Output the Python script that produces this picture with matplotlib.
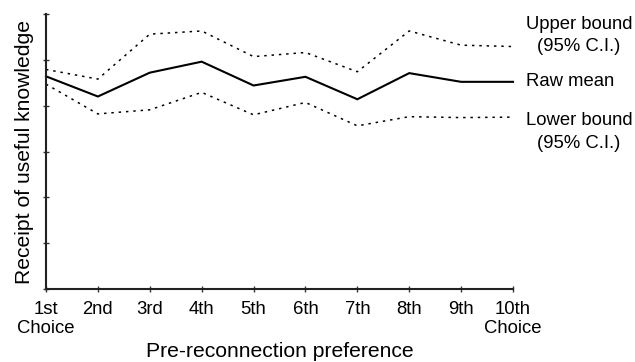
import matplotlib
matplotlib.use("Agg")
import matplotlib.pyplot as plt

plt.rcParams['font.family'] = ['Liberation Sans', 'DejaVu Sans']

categories = ["1st\nChoice", "2nd", "3rd", "4th", "5th", "6th", "7th", "8th", "9th", "10th\nChoice"]
raw_mean = [4.64, 4.20, 4.72, 4.96, 4.44, 4.63, 4.14, 4.71, 4.52, 4.52]
upper_bound = [4.79, 4.58, 5.56, 5.63, 5.07, 5.16, 4.74, 5.63, 5.32, 5.29]
lower_bound = [4.47, 3.82, 3.91, 4.29, 3.80, 4.07, 3.56, 3.76, 3.74, 3.75]
y_ticks = [0, 1, 2, 3, 4, 5, 6]

fig = plt.figure(figsize=(6.35, 3.62), dpi=100)
ax = fig.add_axes([46/635, 1 - 289/362, 467/635, 275/362])

x = list(range(1, len(categories) + 1))
ax.plot(x, raw_mean, color='black', lw=1.5, solid_joinstyle='miter')
ax.plot(x, upper_bound, color='black', lw=1.1, linestyle=(0, (1.6, 3.2)))
ax.plot(x, lower_bound, color='black', lw=1.1, linestyle=(0, (1.6, 3.2)))

ax.set_xlim(1, 10)
ax.set_ylim(0, 6)
ax.set_xticks(x)
ax.set_xticklabels(categories, fontsize=13.3, linespacing=1.15)
ax.set_yticks(y_ticks)
ax.set_yticklabels([])
ax.tick_params(axis='both', direction='inout', length=4, width=1, color='#333333')
ax.tick_params(axis='x', pad=6.5)
for s in ['top', 'right']:
    ax.spines[s].set_visible(False)
for s in ['left', 'bottom']:
    ax.spines[s].set_linewidth(1.5)
    ax.spines[s].set_color('#222222')
for line in ax.lines:
    line.set_clip_on(False)

fig.text((46 + 513) / 2 / 635, 1 - 357/362, "Pre-reconnection preference",
         fontsize=15.2, ha='center', va='baseline')
ax.set_ylabel("Receipt of useful knowledge", fontsize=15.2, labelpad=3)

ax.annotate("Upper bound\n(95% C.I.)", xy=(579/635, 1 - 35.5/362), xycoords='figure fraction',
            ha='center', va='center', fontsize=13.3, linespacing=1.45)
ax.annotate("Raw mean", xy=(526/635, 1 - 82/362), xycoords='figure fraction',
            ha='left', va='center', fontsize=13.3)
ax.annotate("Lower bound\n(95% C.I.)", xy=(579/635, 1 - 132/362), xycoords='figure fraction',
            ha='center', va='center', fontsize=13.3, linespacing=1.45)

fig.savefig("out.png", dpi=100)
